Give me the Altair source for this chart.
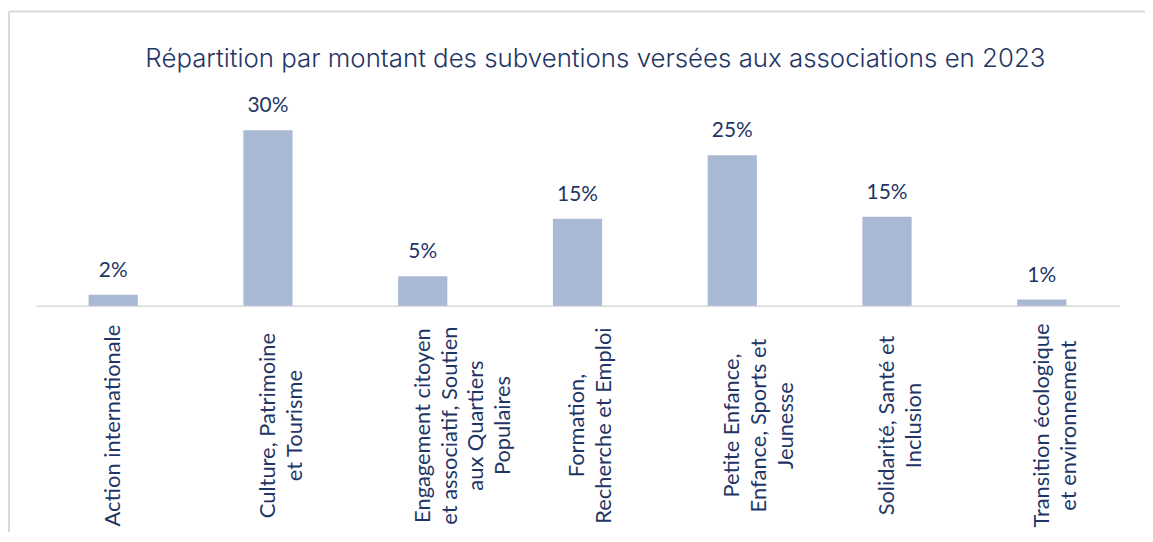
import altair as alt
import pandas as pd

categories = [
    "Action internationale",
    "Culture, Patrimoine\net Tourisme",
    "Engagement citoyen\net associatif, Soutien\naux Quartiers\nPopulaires",
    "Formation,\nRecherche et Emploi",
    "Petite Enfance,\nEnfance, Sports et\nJeunesse",
    "Solidarité, Santé et\nInclusion",
    "Transition écologique\net environnement",
]
values = [1.85, 29.65, 4.98, 14.7, 25.4, 15.05, 1.07]
labels = ["2%", "30%", "5%", "15%", "25%", "15%", "1%"]

df = pd.DataFrame({"cat": categories, "val": values, "lab": labels})

NAVY = "#1f3566"
BAR = "#a9b9d3"
GRID = "#d9d9d9"
TITLE = "Répartition par montant des subventions versées aux associations en 2023"

x = alt.X(
    "cat:N",
    sort=None,
    title=None,
    scale=alt.Scale(paddingInner=0.682, paddingOuter=0.341),
    axis=alt.Axis(
        labelAngle=270,
        labelAlign="center",
        labelBaseline="middle",
        labelPadding=120,
        labelExpr="split(datum.label, '\\n')",
        labelFont="Lato",
        labelFontSize=22,
        labelLineHeight=27,
        labelColor=NAVY,
        labelLimit=400,
        ticks=False,
        tickSize=0,
        domainColor=GRID,
        domainWidth=1.4,
        grid=False,
        labelOverlap=False,
    ),
)
y = alt.Y("val:Q", axis=None, scale=alt.Scale(domain=[0, 33.56], nice=False, zero=True))

bars = alt.Chart(df).mark_bar(color=BAR).encode(x=x, y=y)
text = alt.Chart(df).mark_text(
    font="Lato", fontSize=21, color=NAVY, baseline="alphabetic", dy=-18
).encode(x=x, y=y, text="lab:N")

border_top = alt.Chart(alt.Data(values=[{}])).mark_rule(color=GRID, strokeWidth=2).encode(
    x=alt.value(-27), x2=alt.value(1117), y=alt.value(-96)
)
border_left = alt.Chart(alt.Data(values=[{}])).mark_rule(color=GRID, strokeWidth=2).encode(
    x=alt.value(-27), y=alt.value(-96), y2=alt.value(428)
)

chart = alt.layer(border_top, border_left, bars, text).properties(
    width=1090,
    height=200,
    title=alt.TitleParams(
        TITLE,
        font="Inter",
        fontSize=26,
        fontWeight=300,
        color=NAVY,
        anchor="middle",
        frame="group",
        baseline="alphabetic",
        offset=-83,
        dx=18,
    ),
    autosize=alt.AutoSizeParams(type="none"),
    padding={"left": 28, "top": 98, "right": 26, "bottom": 226},
).configure_view(stroke=None)

chart.save("out.html", embed_options={"renderer": "svg", "actions": False})
